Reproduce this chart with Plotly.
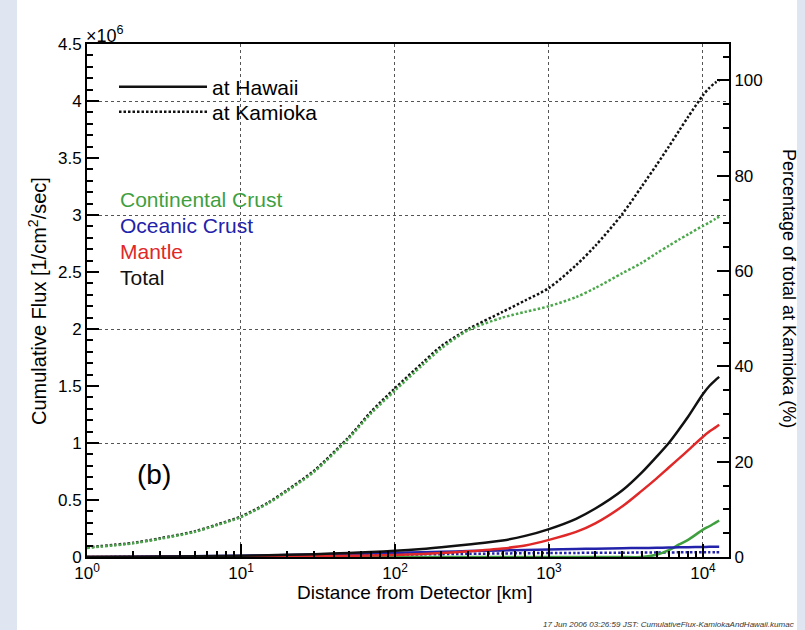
import plotly.graph_objects as go

# ---------------- data (flux in units of 1e6 /cm^2/sec) ----------------
distance_km = [1, 2, 3, 5, 7, 10, 15, 20, 30, 50, 70, 100, 150, 200, 300, 500, 700,
               1000, 1500, 2000, 3000, 4000, 5000, 6000, 7000, 8000, 10000, 11000, 12000, 12742]

# at Kamioka (dotted)
cc_kamioka = [0.08, 0.12, 0.16, 0.22, 0.28, 0.35, 0.47, 0.58, 0.75, 1.04, 1.26, 1.46, 1.68,
              1.83, 1.99, 2.10, 2.15, 2.20, 2.28, 2.36, 2.49, 2.58, 2.665, 2.73, 2.785, 2.83,
              2.905, 2.935, 2.965, 2.985]
oc_kamioka = [0.0, 0.002, 0.003, 0.004, 0.005, 0.006, 0.008, 0.010, 0.012, 0.015, 0.018, 0.020,
              0.023, 0.025, 0.028, 0.031, 0.033, 0.035, 0.036, 0.037, 0.038, 0.039, 0.040,
              0.040, 0.041, 0.041, 0.042, 0.042, 0.042, 0.042]
total_kamioka = [0.085, 0.125, 0.165, 0.225, 0.285, 0.356, 0.477, 0.588, 0.76, 1.05, 1.275,
                 1.48, 1.70, 1.85, 2.00, 2.15, 2.25, 2.36, 2.56, 2.73, 3.01, 3.25, 3.44, 3.60,
                 3.74, 3.86, 4.05, 4.115, 4.16, 4.18]

# at Hawaii (solid)
cc_hawaii = [0, 0, 0, 0, 0, 0, 0, 0, 0, 0, 0, 0, 0, 0, 0, 0, 0,
             0, 0, 0, 0, 0.0, 0.02, 0.06, 0.11, 0.15, 0.24, 0.27, 0.30, 0.32]
oc_hawaii = [0.0, 0.003, 0.005, 0.007, 0.009, 0.011, 0.014, 0.017, 0.021, 0.027, 0.031, 0.036,
             0.042, 0.046, 0.052, 0.058, 0.062, 0.066, 0.070, 0.073, 0.077, 0.079, 0.081,
             0.083, 0.085, 0.086, 0.088, 0.089, 0.090, 0.090]
mantle_hawaii = [0.0, 0.0, 0.001, 0.001, 0.002, 0.002, 0.003, 0.004, 0.006, 0.010, 0.013, 0.018,
                 0.026, 0.034, 0.050, 0.075, 0.10, 0.15, 0.22, 0.295, 0.445, 0.58, 0.69, 0.785,
                 0.865, 0.935, 1.055, 1.10, 1.135, 1.16]
total_hawaii = [0.0, 0.002, 0.004, 0.006, 0.008, 0.011, 0.015, 0.019, 0.025, 0.035, 0.043, 0.055,
                0.07, 0.085, 0.11, 0.145, 0.185, 0.245, 0.335, 0.425, 0.585, 0.74, 0.88, 1.00,
                1.12, 1.23, 1.43, 1.50, 1.55, 1.58]

left_ticks = [0, 0.5, 1, 1.5, 2, 2.5, 3, 3.5, 4, 4.5]
right_ticks = [0, 20, 40, 60, 80, 100]
x_major = [1, 10, 100, 1000, 10000]
x_major_text = ["10<sup>0</sup>", "10<sup>1</sup>", "10<sup>2</sup>", "10<sup>3</sup>", "10<sup>4</sup>"]
x_minor = [m * d for d in [1, 10, 100, 1000] for m in range(2, 10)] + [20000]

component_labels = ["Continental Crust", "Oceanic Crust", "Mantle", "Total"]

GREEN = "#3f9f3f"
GREEN_DOT = "#4aa84a"
BLUE = "#2222aa"
RED = "#e02828"
BLACK = "#111111"
FONT = "Liberation Sans, Arial, Helvetica, sans-serif"
DOT = "2.5px,2px"

# ---------------- figure ----------------
fig = go.Figure()

def add(y, color, dash):
    fig.add_trace(go.Scatter(
        x=distance_km, y=y, mode="lines", showlegend=False,
        line=dict(color=color, width=2.5, dash=dash, shape="spline", smoothing=0.8),
        hoverinfo="skip"))

add(oc_kamioka, BLUE, DOT)
add(total_kamioka, BLACK, DOT)
add(cc_kamioka, GREEN_DOT, DOT)
add(cc_hawaii, GREEN, "solid")
add(oc_hawaii, BLUE, "solid")
add(mantle_hawaii, RED, "solid")
add(total_hawaii, BLACK, "solid")

# legend entries for the two line styles
fig.add_trace(go.Scatter(x=[None], y=[None], mode="lines", name="at Hawaii", legend="legend",
                         line=dict(color=BLACK, width=2.5), showlegend=True))
fig.add_trace(go.Scatter(x=[None], y=[None], mode="lines", name="at Kamioka", legend="legend2",
                         line=dict(color=BLACK, width=2.5, dash=DOT), showlegend=True))
# empty traces so that the percentage axis and the grid axis are drawn
fig.add_trace(go.Scatter(x=[None], y=[None], yaxis="y2", showlegend=False, hoverinfo="skip"))
fig.add_trace(go.Scatter(x=[None], y=[None], yaxis="y3", showlegend=False, hoverinfo="skip"))

# Percentage axis: 100% = total flux at Kamioka
kamioka_total = total_kamioka[-1]
y_max = 4.5
pct_max = y_max / kamioka_total * 100

L, R, T, B = 87, 76, 44, 73
PW, PH = 805 - L - R, 630 - T - B

def px(xp):
    return (xp - L) / PW

def py(yp):
    return (630 - B - yp) / PH

leg_common = dict(xanchor="left", yanchor="middle", bgcolor="rgba(0,0,0,0)",
                  itemwidth=88, font=dict(size=21, family=FONT))

fig.update_layout(
    width=805, height=630,
    margin=dict(l=L, r=R, t=T, b=B, pad=0),
    paper_bgcolor="white", plot_bgcolor="white",
    font=dict(family=FONT, size=17, color="black"),
    showlegend=True,
    legend=dict(x=px(114), y=py(87), **leg_common),
    legend2=dict(x=px(114), y=py(112), **leg_common),
    xaxis=dict(type="log", range=[0, 4.169], tickvals=x_major, ticktext=x_major_text,
               ticks="inside", ticklen=13, tickwidth=1.5, tickcolor="black",
               showline=True, linecolor="black", linewidth=2, mirror=True,
               showgrid=True, gridcolor="#555", griddash="dot", gridwidth=1,
               zeroline=False, tickfont=dict(size=17),
               minor=dict(tickvals=x_minor, ticks="inside", ticklen=6, tickwidth=1.5,
                          tickcolor="black", showgrid=False)),
    yaxis=dict(range=[0, y_max], tickvals=left_ticks, ticks="inside", ticklen=12,
               tickwidth=1.5, tickcolor="black", showline=True, linecolor="black",
               linewidth=2, mirror=True, showgrid=False, zeroline=False,
               tickfont=dict(size=17),
               minor=dict(dtick=0.1, ticks="inside", ticklen=6, tickwidth=1.5,
                          tickcolor="black", showgrid=False)),
    yaxis2=dict(range=[0, pct_max], overlaying="y", side="right", tickvals=right_ticks,
                ticks="inside", ticklen=12, tickwidth=1.5, tickcolor="black",
                showline=True, linecolor="black", linewidth=2, showgrid=False,
                zeroline=False, tickfont=dict(size=17),
                minor=dict(dtick=5, ticks="inside", ticklen=6, tickwidth=1.5,
                           tickcolor="black", showgrid=False)),
    yaxis3=dict(range=[0, y_max], overlaying="y", dtick=1, showticklabels=False,
                ticks="", showline=False, showgrid=True, gridcolor="#555",
                griddash="dot", gridwidth=1, zeroline=False),
)

ann = []
ann.append(dict(text="×10<sup>6</sup>", x=px(84), y=py(35), xref="paper", yref="paper",
                xanchor="left", yanchor="middle", showarrow=False, font=dict(size=18)))
ann.append(dict(text="Cumulative Flux [1/cm<sup>2</sup>/sec]", x=px(37), y=py(301),
                xref="paper", yref="paper", textangle=-90, showarrow=False,
                xanchor="center", yanchor="middle", font=dict(size=20)))
ann.append(dict(text="Percentage of total at Kamioka (%)", x=px(789), y=py(288),
                xref="paper", yref="paper", textangle=90, showarrow=False,
                xanchor="center", yanchor="middle", font=dict(size=18)))
ann.append(dict(text="Distance from Detector [km]", x=px(414), y=py(592),
                xref="paper", yref="paper", showarrow=False,
                xanchor="center", yanchor="middle", font=dict(size=19)))
ann.append(dict(text="(b)", x=px(154), y=py(474), xref="paper", yref="paper",
                showarrow=False, xanchor="center", yanchor="middle", font=dict(size=28)))
for lab, col, yy in zip(component_labels, [GREEN, BLUE, RED, BLACK], [199, 225, 251, 277]):
    ann.append(dict(text=lab, x=px(118), y=py(yy), xref="paper", yref="paper",
                    showarrow=False, xanchor="left", yanchor="middle",
                    font=dict(size=21, color=col)))
ann.append(dict(text="<i>17 Jun 2006 03:26:59 JST: CumulativeFlux-KamiokaAndHawaii.kumac</i>",
                x=px(796), y=py(624), xref="paper", yref="paper", showarrow=False,
                xanchor="right", yanchor="middle", font=dict(size=8, color="#333")))
fig.update_layout(annotations=ann)

# light blue page border
BORDER = "#dfe5f1"
fig.add_shape(type="rect", xref="paper", yref="paper", x0=px(-5), x1=px(17),
              y0=py(640), y1=py(-10), fillcolor=BORDER, line=dict(width=0), layer="below")
fig.add_shape(type="rect", xref="paper", yref="paper", x0=px(797), x1=px(815),
              y0=py(640), y1=py(-10), fillcolor=BORDER, line=dict(width=0), layer="below")

fig.write_html("out.html")
